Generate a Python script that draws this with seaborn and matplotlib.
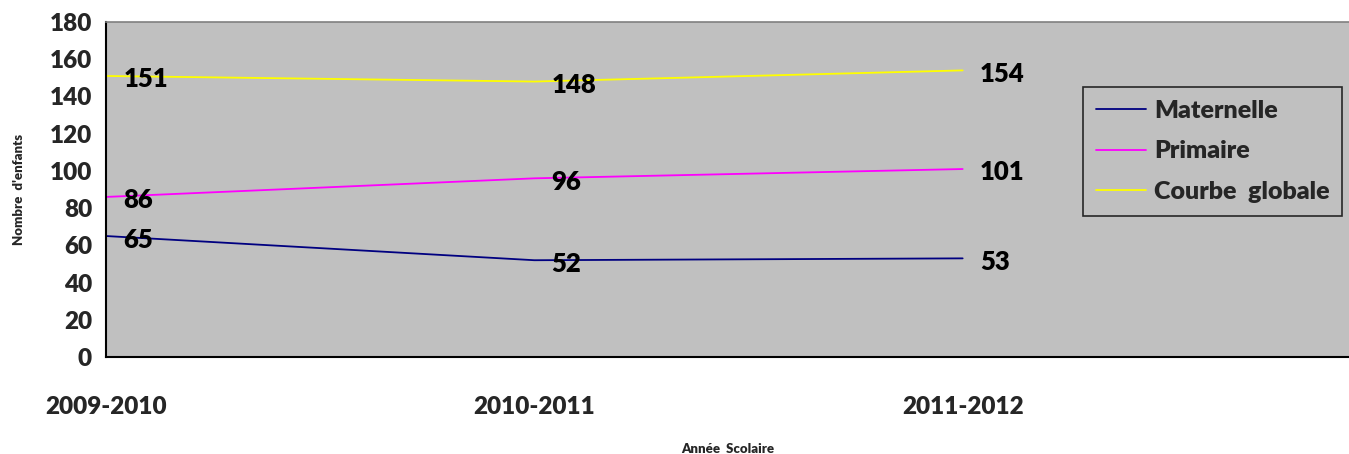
import matplotlib
matplotlib.use("Agg")
import matplotlib.pyplot as plt
import seaborn as sns
import pandas as pd

years = ["2009-2010", "2010-2011", "2011-2012"]
maternelle = [65, 52, 53]
primaire = [86, 96, 101]
globale = [151, 148, 154]
series_names = ["Maternelle", "Primaire", "Courbe  globale"]
colors = ["#000080", "#FF00FF", "#FFFF00"]

rows = []
for name, vals in zip(series_names, [maternelle, primaire, globale]):
    for i, (y, v) in enumerate(zip(years, vals)):
        rows.append({"idx": i, "year": y, "value": v, "serie": name})
df = pd.DataFrame(rows)

sns.set_theme(style="white")
plt.rcParams["font.family"] = ["Lato", "DejaVu Sans"]
W = "heavy"
plt.rcParams["font.weight"] = W

fig = plt.figure(figsize=(13.49, 4.54), dpi=100)
ax = fig.add_axes([106 / 1349, 1 - 357 / 454, 1 - 106 / 1349, (357 - 22) / 454])
ax.set_facecolor("#C0C0C0")

sns.lineplot(data=df, x="idx", y="value", hue="serie", hue_order=series_names,
             palette=colors, linewidth=1.3, ax=ax, legend=True)

for name, vals in zip(series_names, [maternelle, primaire, globale]):
    for i, v in enumerate(vals):
        ax.annotate(str(v), xy=(i, v), xytext=(12.5, -2.5), textcoords="offset points",
                    ha="left", va="center", fontsize=18.5, fontweight=W, color="black")

ax.set_xlim(0, 2.902)
ax.set_ylim(0, 180)
ax.set_yticks(range(0, 181, 20))
ax.set_xticks(range(len(years)))
ax.set_xticklabels(years)
ax.tick_params(axis="x", which="both", direction="out", length=6, width=1.2, color="black",
               pad=22, labelsize=17.5)
ax.tick_params(axis="y", which="both", direction="out", length=6, width=1.2, color="black",
               pad=4, labelsize=17.5)
for lbl in ax.get_xticklabels() + ax.get_yticklabels():
    lbl.set_fontweight(W)

ax.spines["left"].set_color("black")
ax.spines["left"].set_linewidth(1.5)
ax.spines["bottom"].set_color("black")
ax.spines["bottom"].set_linewidth(1.5)
ax.spines["top"].set_color("#808080")
ax.spines["top"].set_linewidth(1.2)
ax.spines["right"].set_visible(False)

ax.set_xlabel("Année  Scolaire", fontsize=9.5, fontweight=W, labelpad=18)
ax.set_ylabel("Nombre  d'enfants", fontsize=9.5, fontweight=W, labelpad=18)

leg = ax.legend(loc="upper left", bbox_to_anchor=((1083 - 106) / (1349 - 106), (357 - 87) / 335),
                frameon=True, fontsize=18, handlelength=2.0, handletextpad=0.35,
                labelspacing=0.75, borderpad=0.5, borderaxespad=0, fancybox=False)
leg.get_frame().set_facecolor("#C0C0C0")
leg.get_frame().set_edgecolor("black")
leg.get_frame().set_linewidth(1.2)
for t in leg.get_texts():
    t.set_fontweight(W)

fig.savefig("out.png", dpi=100)
